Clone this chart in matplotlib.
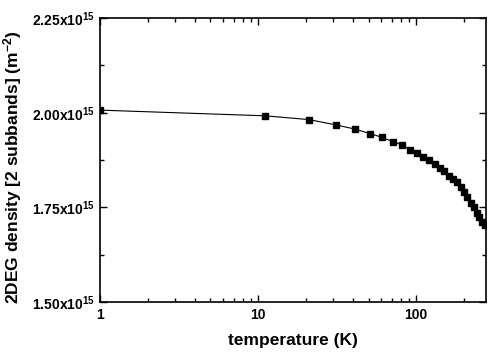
import numpy as np
import matplotlib
matplotlib.use('Agg')
import matplotlib.pyplot as plt
from matplotlib.ticker import FixedLocator, FuncFormatter, NullFormatter, LogLocator

plt.rcParams['font.family'] = ['Liberation Sans', 'DejaVu Sans']
plt.rcParams['mathtext.fontset'] = 'custom'
plt.rcParams['mathtext.rm'] = 'Liberation Sans:bold'
plt.rcParams['mathtext.it'] = 'Liberation Sans:bold'
plt.rcParams['mathtext.bf'] = 'Liberation Sans:bold'

# temperature (K) and 2DEG density (units of 1e15 m^-2)
temperature = [1, 11, 21, 31, 41, 51, 61, 71, 81, 91, 101, 111, 121, 131, 141,
               151, 161, 171, 181, 191, 201, 211, 221, 231, 241, 251, 261, 271]
density = [2.007, 1.992, 1.982, 1.968, 1.957, 1.945, 1.935, 1.924, 1.916, 1.903,
           1.893, 1.884, 1.875, 1.865, 1.855, 1.845, 1.833, 1.824, 1.817, 1.804,
           1.791, 1.778, 1.763, 1.750, 1.736, 1.724, 1.712, 1.703]
y_ticks = [1.50, 1.75, 2.00, 2.25]

fig = plt.figure(figsize=(4.96, 3.55), dpi=100)
ax = fig.add_axes([0.2016, 0.149, 0.7784, 0.800])

ax.plot(temperature, density, '-', color='black', lw=0.8,
        marker='s', ms=4.6, mfc='black', mec='black')

ax.set_xscale('log')
ax.set_xlim(1, 277)
ax.set_ylim(1.5, 2.25)

ax.xaxis.set_major_locator(FixedLocator([1, 10, 100]))
ax.xaxis.set_minor_locator(LogLocator(base=10, subs=np.arange(2, 10)))
ax.xaxis.set_minor_formatter(NullFormatter())
ax.xaxis.set_major_formatter(FuncFormatter(lambda v, p: f"{v:g}"))

ax.yaxis.set_major_locator(FixedLocator(y_ticks))
ax.yaxis.set_minor_locator(FixedLocator([1.625, 1.875, 2.125]))
ax.yaxis.set_major_formatter(FuncFormatter(lambda v, p: f"{v:.2f}x10$^{{15}}$"))

ax.tick_params(which='both', direction='in', top=True, right=True, width=1.0)
ax.tick_params(which='major', length=5, labelsize=10, pad=4)
ax.tick_params(which='minor', length=3)
for lab in ax.get_xticklabels() + ax.get_yticklabels():
    lab.set_fontweight('bold')
for spine in ax.spines.values():
    spine.set_linewidth(1.2)

ax.set_xlabel("temperature (K)", fontsize=12.5, fontweight='bold', labelpad=8)
ax.set_ylabel("2DEG density [2 subbands] (m$^{-2}$)", fontsize=12.5,
              fontweight='bold')
ax.yaxis.set_label_coords(-0.197, 0.475)

fig.savefig("out.png", dpi=100, facecolor='white')
plt.close()
